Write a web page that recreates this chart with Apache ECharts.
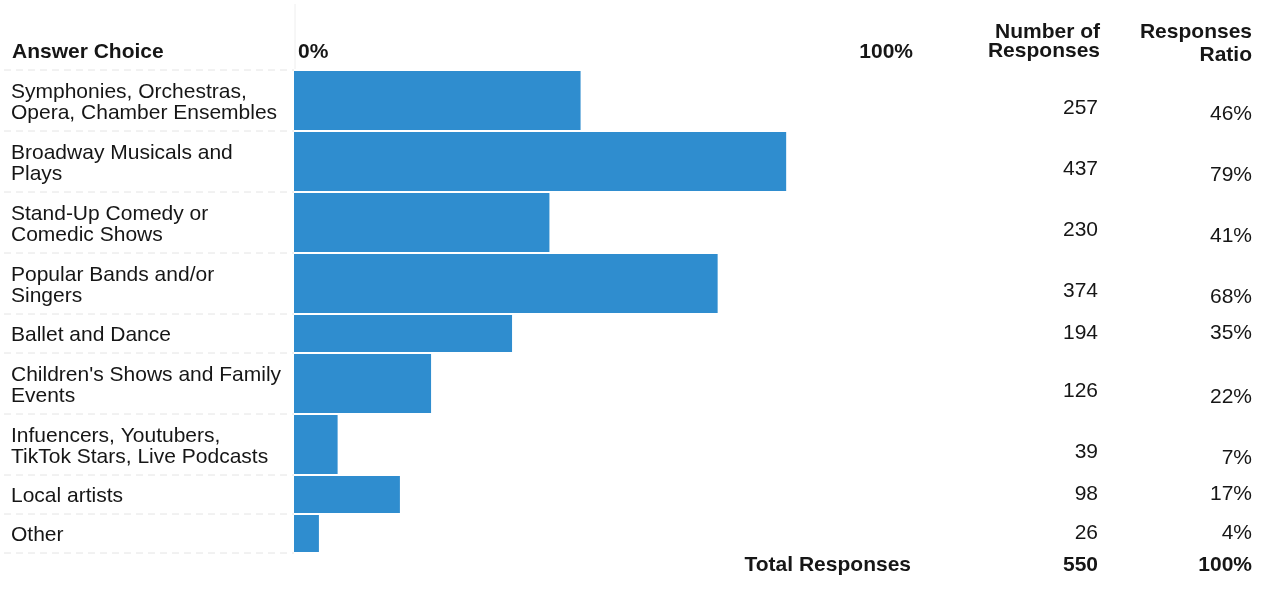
<!DOCTYPE html>
<html>
<head>
<meta charset="utf-8">
<script src="https://cdn.jsdelivr.net/npm/echarts@6/dist/echarts.min.js"></script>
<style>
  html, body { margin: 0; padding: 0; background: #ffffff; }
  #chart { width: 1264px; height: 590px; }
</style>
</head>
<body>
<div id="chart"></div>
<script>
// Survey results: answer choices, response counts and response ratios
const categories = [
  'Symphonies, Orchestras,\nOpera, Chamber Ensembles',
  'Broadway Musicals and\nPlays',
  'Stand-Up Comedy or\nComedic Shows',
  'Popular Bands and/or\nSingers',
  'Ballet and Dance',
  "Children's Shows and Family\nEvents",
  'Infuencers, Youtubers,\nTikTok Stars, Live Podcasts',
  'Local artists',
  'Other'
];
const responses = [257, 437, 230, 374, 194, 126, 39, 98, 26];
const ratios = [46, 79, 41, 68, 35, 22, 7, 17, 4];
const totalResponses = 550;
const totalRatio = 100;
const axisTickLabels = ['0%', '100%'];
const headers = {
  choice: 'Answer Choice',
  count: ['Number of', 'Responses'],
  ratio: ['Responses', 'Ratio'],
  total: 'Total Responses'
};

// ---- layout ----
const FONT_FAMILY = '"Liberation Sans", Arial, Helvetica, sans-serif';
const FONT_SIZE = 21;
const TEXT_COLOR = '#161616';
const BAR_COLOR = '#2f8dcf';
const GRID_LEFT = 294;
const GRID_WIDTH = 623;
const GRID_TOP = 71;
const ROW_PAD = 17;     // vertical padding of a row
const LINE_PITCH = 22;  // extra height per text line
const BAR_GAP = 2;      // white gap between bars
const LABEL_X = 11;
const COUNT_RIGHT = 1098;
const RATIO_RIGHT = 1252;

const rowLines = categories.map(c => c.split('\n').length);
const rowTops = [];
let extent = 0;
rowLines.forEach(n => { rowTops.push(extent); extent += ROW_PAD + LINE_PITCH * n; });

function font(weight) {
  return weight + ' ' + FONT_SIZE + 'px ' + FONT_FAMILY;
}

function txt(text, x, y, align, weight) {
  return {
    type: 'text',
    silent: true,
    style: {
      text: text, x: x, y: y,
      font: font(weight || 'normal'),
      fill: TEXT_COLOR,
      align: align || 'left',
      verticalAlign: 'middle'
    }
  };
}

function renderRow(params, api) {
  const i = api.value(0);
  const lines = rowLines[i];
  const top = rowTops[i];
  const bottom = top + ROW_PAD + LINE_PITCH * lines - BAR_GAP;
  const p0 = api.coord([0, top]);
  const p1 = api.coord([api.value(1), bottom]);
  const yMid = (p0[1] + p1[1]) / 2;
  const two = lines > 1;
  const sepY = p1[1] + BAR_GAP / 2;
  return {
    type: 'group',
    children: [
      {
        type: 'rect',
        shape: { x: p0[0], y: p0[1], width: p1[0] - p0[0], height: p1[1] - p0[1] },
        style: { fill: BAR_COLOR }
      },
      {
        type: 'line',
        silent: true,
        shape: { x1: 4, y1: sepY, x2: p0[0], y2: sepY },
        style: { stroke: '#e4e4e4', lineWidth: 1, lineDash: [7, 5] }
      },
      {
        type: 'text',
        silent: true,
        style: {
          text: categories[i],
          x: LABEL_X, y: yMid + 2,
          font: font('normal'),
          lineHeight: 21,
          fill: TEXT_COLOR,
          align: 'left',
          verticalAlign: 'middle'
        }
      },
      txt(String(responses[i]), COUNT_RIGHT, yMid + (two ? 8 : 0), 'right'),
      txt(ratios[i] + '%', RATIO_RIGHT, yMid + (two ? 14 : 0), 'right')
    ]
  };
}

const chart = echarts.init(document.getElementById('chart'), null, { renderer: 'canvas' });

chart.setOption({
  backgroundColor: '#ffffff',
  animation: false,
  grid: { left: GRID_LEFT, top: GRID_TOP, width: GRID_WIDTH, height: extent },
  xAxis: { type: 'value', min: 0, max: 100, show: false },
  yAxis: { type: 'value', min: 0, max: extent, inverse: true, show: false },
  series: [{
    type: 'custom',
    clip: false,
    renderItem: renderRow,
    encode: { x: 1, y: 0 },
    data: categories.map((c, i) => [i, ratios[i]])
  }],
  graphic: [
    {
      type: 'line', silent: true,
      shape: { x1: 4, y1: GRID_TOP - 1, x2: GRID_LEFT, y2: GRID_TOP - 1 },
      style: { stroke: '#e4e4e4', lineWidth: 1, lineDash: [7, 5] }
    },
    {
      type: 'line', silent: true,
      shape: { x1: GRID_LEFT + 1, y1: 4, x2: GRID_LEFT + 1, y2: GRID_TOP - 2 },
      style: { stroke: '#eeeeee', lineWidth: 1 }
    },
    txt(headers.choice, 12, 52, 'left', 'bold'),
    txt(axisTickLabels[0], 298, 52, 'left', 'bold'),
    txt(axisTickLabels[1], 913, 52, 'right', 'bold'),
    txt(headers.count[0], 1100, 32, 'right', 'bold'),
    txt(headers.count[1], 1100, 51, 'right', 'bold'),
    txt(headers.ratio[0], 1252, 32, 'right', 'bold'),
    txt(headers.ratio[1], 1252, 55, 'right', 'bold'),
    txt(headers.total, 911, 565, 'right', 'bold'),
    txt(String(totalResponses), COUNT_RIGHT, 565, 'right', 'bold'),
    txt(totalRatio + '%', RATIO_RIGHT, 565, 'right', 'bold')
  ]
});
</script>
</body>
</html>
